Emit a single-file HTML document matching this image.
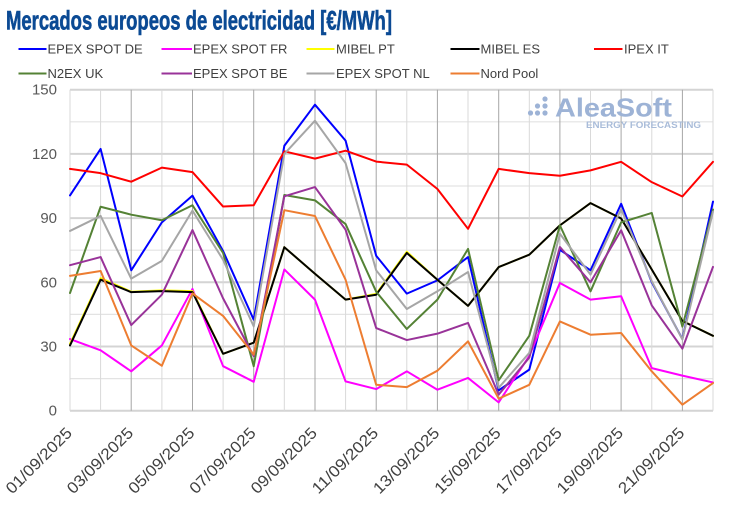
<!DOCTYPE html>
<html>
<head>
<meta charset="utf-8">
<style>
html,body{margin:0;padding:0;background:#fff;}
svg{display:block;}
</style>
</head>
<body>
<svg width="730" height="509" viewBox="0 0 730 509" xmlns="http://www.w3.org/2000/svg">
<rect x="0" y="0" width="730" height="509" fill="#ffffff"/>

<!-- Title -->
<text x="6" y="29.5" font-family="Liberation Sans, sans-serif" font-weight="bold" font-size="26.5" fill="#0b4a94" stroke="#0b4a94" stroke-width="0.6" textLength="386" lengthAdjust="spacingAndGlyphs">Mercados europeos de electricidad [€/MWh]</text>

<!-- Legend -->
<g font-family="Liberation Sans, sans-serif" font-size="13" fill="#404040" stroke-width="2">
  <line x1="18.5" y1="49" x2="46.5" y2="49" stroke="#0000ff"/>
  <text x="47.5" y="53.5" stroke="none">EPEX SPOT DE</text>
  <line x1="161.5" y1="49" x2="192" y2="49" stroke="#ff00ff"/>
  <text x="193" y="53.5" stroke="none">EPEX SPOT FR</text>
  <line x1="306.5" y1="49" x2="334.5" y2="49" stroke="#ffff00"/>
  <text x="336" y="53.5" stroke="none">MIBEL PT</text>
  <line x1="450.5" y1="49" x2="479.5" y2="49" stroke="#000000"/>
  <text x="480.5" y="53.5" stroke="none">MIBEL ES</text>
  <line x1="594" y1="49" x2="622.5" y2="49" stroke="#ff0000"/>
  <text x="624" y="53.5" stroke="none">IPEX IT</text>

  <line x1="18.5" y1="73.5" x2="46.5" y2="73.5" stroke="#548235"/>
  <text x="47.5" y="78" stroke="none">N2EX UK</text>
  <line x1="161.5" y1="73.5" x2="192" y2="73.5" stroke="#993399"/>
  <text x="193" y="78" stroke="none">EPEX SPOT BE</text>
  <line x1="306.5" y1="73.5" x2="334.5" y2="73.5" stroke="#a6a6a6"/>
  <text x="336" y="78" stroke="none">EPEX SPOT NL</text>
  <line x1="450.5" y1="73.5" x2="479.5" y2="73.5" stroke="#ed7d31"/>
  <text x="480.5" y="78" stroke="none">Nord Pool</text>
</g>

<!-- Horizontal gridlines -->
<g stroke="#e3e3e3" stroke-width="1.2">
  <line x1="70" y1="378.6" x2="713" y2="378.6"/>
  <line x1="70" y1="314.4" x2="713" y2="314.4"/>
  <line x1="70" y1="250.2" x2="713" y2="250.2"/>
  <line x1="70" y1="186.0" x2="713" y2="186.0"/>
  <line x1="70" y1="121.8" x2="713" y2="121.8"/>
</g>
<g stroke="#d4d4d4" stroke-width="2">
  <line x1="70" y1="346.5" x2="713" y2="346.5"/>
  <line x1="70" y1="282.3" x2="713" y2="282.3"/>
  <line x1="70" y1="218.1" x2="713" y2="218.1"/>
  <line x1="70" y1="153.9" x2="713" y2="153.9"/>
  <line x1="70" y1="89.7" x2="713" y2="89.7"/>
  <line x1="70" y1="410.7" x2="713" y2="410.7"/>
</g>

<!-- Vertical gridlines -->
<g stroke="#d9d9d9" stroke-width="1">
  <line x1="70" y1="89.7" x2="70" y2="410.7"/>
  <line x1="100.6" y1="89.7" x2="100.6" y2="410.7"/>
  <line x1="161.9" y1="89.7" x2="161.9" y2="410.7"/>
  <line x1="223.1" y1="89.7" x2="223.1" y2="410.7"/>
  <line x1="284.3" y1="89.7" x2="284.3" y2="410.7"/>
  <line x1="345.6" y1="89.7" x2="345.6" y2="410.7"/>
  <line x1="406.8" y1="89.7" x2="406.8" y2="410.7"/>
  <line x1="468.0" y1="89.7" x2="468.0" y2="410.7"/>
  <line x1="529.3" y1="89.7" x2="529.3" y2="410.7"/>
  <line x1="590.5" y1="89.7" x2="590.5" y2="410.7"/>
  <line x1="651.8" y1="89.7" x2="651.8" y2="410.7"/>
  <line x1="713.0" y1="89.7" x2="713.0" y2="410.7"/>
</g>
<g stroke="#a6a6a6" stroke-width="1">
  <line x1="131.2" y1="89.7" x2="131.2" y2="410.7"/>
  <line x1="192.5" y1="89.7" x2="192.5" y2="410.7"/>
  <line x1="253.7" y1="89.7" x2="253.7" y2="410.7"/>
  <line x1="315.0" y1="89.7" x2="315.0" y2="410.7"/>
  <line x1="376.2" y1="89.7" x2="376.2" y2="410.7"/>
  <line x1="437.4" y1="89.7" x2="437.4" y2="410.7"/>
  <line x1="498.7" y1="89.7" x2="498.7" y2="410.7"/>
  <line x1="559.9" y1="89.7" x2="559.9" y2="410.7"/>
  <line x1="621.1" y1="89.7" x2="621.1" y2="410.7"/>
  <line x1="682.4" y1="89.7" x2="682.4" y2="410.7"/>
</g>

<!-- Logo watermark -->
<g fill="#9db3d6">
  <circle cx="530.5" cy="113" r="2.6"/>
  <circle cx="537.5" cy="106" r="2.6"/>
  <circle cx="537.5" cy="113" r="2.6"/>
  <circle cx="545" cy="99" r="2.6"/>
  <circle cx="545" cy="106" r="2.6"/>
  <circle cx="545" cy="113" r="2.6"/>
  <text x="555" y="116.5" font-family="Liberation Sans, sans-serif" font-weight="bold" font-size="26" textLength="117" lengthAdjust="spacingAndGlyphs">AleaSoft</text>
  <text x="586" y="127.8" font-family="Liberation Sans, sans-serif" font-weight="bold" font-size="9" fill="#a9bcd9" textLength="115" lengthAdjust="spacingAndGlyphs">ENERGY FORECASTING</text>
</g>

<!-- Y axis labels -->
<g font-family="Liberation Sans, sans-serif" font-size="15" fill="#595959" text-anchor="end">
  <text x="57" y="94.7">150</text>
  <text x="57" y="158.9">120</text>
  <text x="57" y="223.1">90</text>
  <text x="57" y="287.3">60</text>
  <text x="57" y="351.5">30</text>
  <text x="57" y="415.7">0</text>
</g>

<!-- X axis labels -->
<g font-family="Liberation Sans, sans-serif" font-size="16" fill="#404040" text-anchor="end">
  <text transform="translate(73,434) rotate(-45)" textLength="86" lengthAdjust="spacingAndGlyphs">01/09/2025</text>
  <text transform="translate(134.2,434) rotate(-45)" textLength="86" lengthAdjust="spacingAndGlyphs">03/09/2025</text>
  <text transform="translate(195.5,434) rotate(-45)" textLength="86" lengthAdjust="spacingAndGlyphs">05/09/2025</text>
  <text transform="translate(256.7,434) rotate(-45)" textLength="86" lengthAdjust="spacingAndGlyphs">07/09/2025</text>
  <text transform="translate(318,434) rotate(-45)" textLength="86" lengthAdjust="spacingAndGlyphs">09/09/2025</text>
  <text transform="translate(379.2,434) rotate(-45)" textLength="86" lengthAdjust="spacingAndGlyphs">11/09/2025</text>
  <text transform="translate(440.4,434) rotate(-45)" textLength="86" lengthAdjust="spacingAndGlyphs">13/09/2025</text>
  <text transform="translate(501.7,434) rotate(-45)" textLength="86" lengthAdjust="spacingAndGlyphs">15/09/2025</text>
  <text transform="translate(562.9,434) rotate(-45)" textLength="86" lengthAdjust="spacingAndGlyphs">17/09/2025</text>
  <text transform="translate(624.1,434) rotate(-45)" textLength="86" lengthAdjust="spacingAndGlyphs">19/09/2025</text>
  <text transform="translate(685.4,434) rotate(-45)" textLength="86" lengthAdjust="spacingAndGlyphs">21/09/2025</text>
</g>

<!-- Series -->
<g transform="translate(70,410.7) scale(30.619,-2.14)" fill="none" stroke-width="2" stroke-linejoin="round" stroke-linecap="round">
  <polyline vector-effect="non-scaling-stroke" stroke="#0000ff" points="0,100.6 1,122.3 2,65.6 3,88 4,100.5 5,74.6 6,42.5 7,123.8 8,143 9,126.2 10,72.4 11,54.7 12,60.9 13,71.8 14,9.5 15,19.2 16,75.2 17,65.6 18,96.7 19,60 20,33.5 21,97.7"/>
  <polyline vector-effect="non-scaling-stroke" stroke="#ff00ff" points="0,33.5 1,28.2 2,18.4 3,30.5 4,56.9 5,20.8 6,13.5 7,66 8,51.9 9,13.7 10,10.1 11,18.4 12,9.8 13,15.3 14,3.9 15,25.6 16,59.7 17,51.9 18,53.5 19,19.9 20,16.4 21,13.2"/>
  <polyline vector-effect="non-scaling-stroke" stroke="#ffff00" points="0,31.2 1,62 2,55.6 3,56.2 4,55.9 5,26.6 6,31.8 7,76.4 8,64 9,51.9 10,54.6 11,74.3 12,61.2 13,49 14,67.1 15,72.9 16,86.6 17,97 18,89.8 19,66 20,42 21,35"/>
  <polyline vector-effect="non-scaling-stroke" stroke="#000000" points="0,30.5 1,61.2 2,55.4 3,55.9 4,55.4 5,26.6 6,31.8 7,76.4 8,64 9,51.9 10,54.2 11,73.7 12,61.2 13,49 14,67.1 15,72.9 16,86.6 17,97 18,89.8 19,66 20,41.9 21,35"/>
  <polyline vector-effect="non-scaling-stroke" stroke="#ff0000" points="0,113 1,111 2,107 3,113.6 4,111.5 5,95.4 6,96 7,121.2 8,117.8 9,121.5 10,116.4 11,115 12,103.6 13,85 14,113 15,111 16,109.8 17,112.3 18,116.3 19,106.8 20,100.1 21,116.3"/>
  <polyline vector-effect="non-scaling-stroke" stroke="#548235" points="0,55 1,95.3 2,91.6 3,89 4,96 5,73.7 6,20.8 7,100.8 8,98.3 9,87.2 10,55.6 11,38.2 12,51.9 13,75.6 14,14.2 15,35 16,86.6 17,55.8 18,88 19,92.4 20,39.3 21,94"/>
  <polyline vector-effect="non-scaling-stroke" stroke="#993399" points="0,68 1,71.8 2,40 3,54.2 4,84.4 5,52.5 6,25.5 7,100.2 8,104.5 9,84.6 10,38.6 11,33 12,36 13,41 14,7.5 15,24.8 16,76.5 17,60 18,84.3 19,49.2 20,29 21,67.2"/>
  <polyline vector-effect="non-scaling-stroke" stroke="#a6a6a6" points="0,84 1,91 2,61.7 3,70 4,93.5 5,70.5 6,39.4 7,120 8,135.5 9,115.7 10,65.6 11,47.5 12,55.8 13,64.8 14,10.7 15,27 16,82.7 17,63.6 18,94.2 19,60.5 20,33.3 21,93"/>
  <polyline vector-effect="non-scaling-stroke" stroke="#ed7d31" points="0,63 1,65.3 2,30.5 3,21 4,54.8 5,44.3 6,26.2 7,93.7 8,91 9,61.2 10,12.1 11,11 12,18.7 13,32.4 14,5.6 15,12.1 16,41.7 17,35.5 18,36.3 19,18.4 20,2.8 21,12.9"/>
</g>
</svg>
</body>
</html>
